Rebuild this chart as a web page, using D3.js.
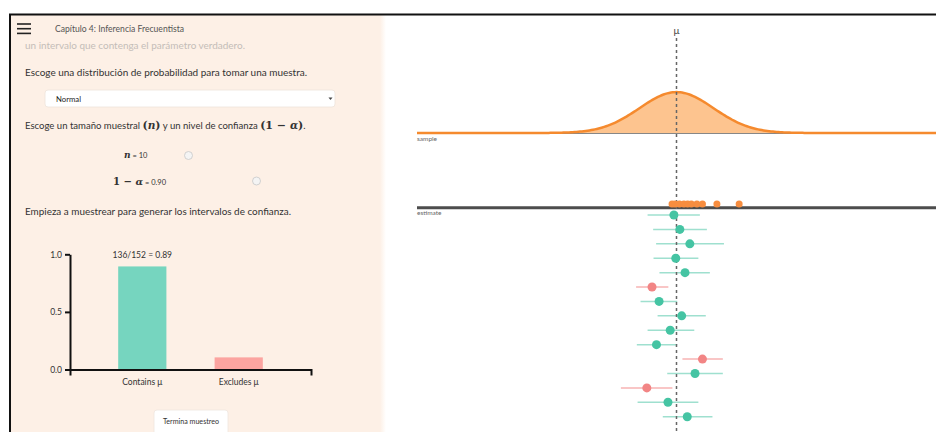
<!DOCTYPE html>
<html>
<head>
<meta charset="utf-8">
<script src="https://cdn.jsdelivr.net/npm/d3@7"></script>
<style>
body { margin: 0; background: #fff; }
svg { display: block; }
text { font-family: Lato, "Open Sans", sans-serif; }
</style>
</head>
<body>
<script>
// bar chart data
var barCats = ["Contains μ", "Excludes μ"];
var barCounts = [136, 16];
var barTotal = 152;
var barTicks = [0, 0.5, 1.0];

// population
var mu = 0, sigma = 1;

// last sample (n = 10)
var sampleVals = [-0.12, -0.04, 0.08, 0.2, 0.3, 0.4, 0.55, 0.7, 1.09, 1.69];

// confidence intervals, top to bottom
var estimates = [-0.07, 0.09, 0.36, -0.02, 0.23, -0.66, -0.47, 0.14, -0.17, -0.54, 0.70, 0.50, -0.80, -0.23, 0.29];
var lowers    = [-0.78, -0.63, -0.55, -0.62, -0.46, -1.09, -0.97, -0.51, -0.78, -1.07, 0.16, -0.25, -1.50, -1.05, -0.37];
var uppers    = [0.63, 0.82, 1.28, 0.59, 0.90, -0.22, 0.02, 0.79, 0.48, 0.02, 1.25, 1.25, -0.11, 0.59, 0.97];

var W = 936, H = 432;
var svg = d3.select("body").append("svg").attr("width", W).attr("height", H);

// scale font size so the text takes the given width
function fit(sel, w) {
  var cur = sel.node().getComputedTextLength();
  var fs = parseFloat(sel.attr("font-size"));
  sel.attr("font-size", fs * w / cur);
  return sel;
}
// keep the font size, squeeze to width
function squeeze(sel, w) {
  return sel.attr("textLength", w).attr("lengthAdjust", "spacingAndGlyphs");
}

// ---------- left panel ----------
svg.append("rect").attr("x", 10).attr("y", 14).attr("width", 373).attr("height", H - 14).attr("fill", "#fdf0e6");
var grad = svg.append("defs").append("linearGradient").attr("id", "edge");
grad.append("stop").attr("offset", "0%").attr("stop-color", "#fdf0e6");
grad.append("stop").attr("offset", "100%").attr("stop-color", "#fff");
svg.append("rect").attr("x", 380).attr("y", 14).attr("width", 6).attr("height", H - 14).attr("fill", "url(#edge)");

// frame
svg.append("line").attr("x1", 9).attr("x2", W).attr("y1", 14.5).attr("y2", 14.5).attr("stroke", "#111").attr("stroke-width", 2);
svg.append("line").attr("x1", 10).attr("x2", 10).attr("y1", 14).attr("y2", H).attr("stroke", "#111").attr("stroke-width", 2);

// menu icon
[24, 28.7, 33.4].forEach(function(y) {
  svg.append("line").attr("x1", 17).attr("x2", 31).attr("y1", y).attr("y2", y).attr("stroke", "#222").attr("stroke-width", 1.6);
});

squeeze(svg.append("text").attr("x", 55).attr("y", 32).attr("font-size", 9).attr("fill", "#555")
  .text("Capítulo 4: Inferencia Frecuentista"), 129);
squeeze(svg.append("text").attr("x", 25).attr("y", 49).attr("font-size", 10.3).attr("fill", "#c4bdb8")
  .text("un intervalo que contenga el parámetro verdadero."), 220);
squeeze(svg.append("text").attr("x", 25).attr("y", 76).attr("font-size", 10.3).attr("fill", "#333")
  .text("Escoge una distribución de probabilidad para tomar una muestra."), 282);

// select box
svg.append("rect").attr("x", 45).attr("y", 90).attr("width", 290).attr("height", 17).attr("rx", 3)
  .attr("fill", "#fff").attr("stroke", "#eee3da").attr("stroke-width", 0.8);
fit(svg.append("text").attr("x", 56).attr("y", 101.5).attr("font-size", 8).attr("fill", "#222").text("Normal"), 25);
svg.append("path").attr("d", "M328.5,97.5 L332.5,97.5 L330.5,100 Z").attr("fill", "#444");

var t2 = svg.append("text").attr("x", 25).attr("y", 129).attr("font-size", 10).attr("fill", "#333");
t2.append("tspan").text("Escoge un tamaño muestral ");
t2.append("tspan").attr("font-family", "DejaVu Serif").attr("font-weight", "bold").style("font-size", "1.15em").text("(");
t2.append("tspan").attr("font-family", "DejaVu Serif").attr("font-weight", "bold").attr("font-style", "italic").style("font-size", "1.1em").text("n");
t2.append("tspan").attr("font-family", "DejaVu Serif").attr("font-weight", "bold").style("font-size", "1.15em").text(")");
t2.append("tspan").text(" y un nivel de confianza ");
t2.append("tspan").attr("font-family", "DejaVu Serif").attr("font-weight", "bold").style("font-size", "1.15em").text("(1 − ");
t2.append("tspan").attr("font-family", "DejaVu Serif").attr("font-weight", "bold").attr("font-style", "italic").style("font-size", "1.1em").text("α");
t2.append("tspan").attr("font-family", "DejaVu Serif").attr("font-weight", "bold").style("font-size", "1.15em").text(")");
t2.append("tspan").text(".");
fit(t2, 281);

var tn = svg.append("text").attr("x", 124).attr("y", 158).attr("font-size", 7.5).attr("fill", "#333");
tn.append("tspan").attr("font-family", "DejaVu Serif").attr("font-weight", "bold").attr("font-style", "italic").style("font-size", "1.2em").text("n");
tn.append("tspan").text(" = 10");
svg.append("circle").attr("cx", 188.5).attr("cy", 155.5).attr("r", 4).attr("fill", "#f4f4f4").attr("stroke", "#c8c8c8").attr("stroke-width", 0.8);

var ta = svg.append("text").attr("x", 113).attr("y", 185).attr("font-size", 7.5).attr("fill", "#333");
ta.append("tspan").attr("font-family", "DejaVu Serif").attr("font-weight", "bold").style("font-size", "1.35em").text("1 − ");
ta.append("tspan").attr("font-family", "DejaVu Serif").attr("font-weight", "bold").attr("font-style", "italic").style("font-size", "1.3em").text("α");
ta.append("tspan").text(" = 0.90");
svg.append("circle").attr("cx", 256.5).attr("cy", 181).attr("r", 4).attr("fill", "#f4f4f4").attr("stroke", "#c8c8c8").attr("stroke-width", 0.8);

squeeze(svg.append("text").attr("x", 25).attr("y", 215).attr("font-size", 10.3).attr("fill", "#333")
  .text("Empieza a muestrear para generar los intervalos de confianza."), 266);

// bar chart
var barVals = barCounts.map(function(c) { return c / barTotal; });
var bx = d3.scaleBand().domain(barCats).range([70, 311]).padding(0.5);
var by = d3.scaleLinear().domain([0, 1]).range([369.5, 254.3]);

var bars = svg.append("g");
bars.selectAll("rect").data(barCats).enter().append("rect")
  .attr("x", function(d) { return bx(d); })
  .attr("width", bx.bandwidth())
  .attr("y", function(d, i) { return by(barVals[i]); })
  .attr("height", function(d, i) { return by(0) - by(barVals[i]); })
  .attr("fill", function(d, i) { return i === 0 ? "#76d5bf" : "#fca4a0"; });

var gy = svg.append("g").attr("transform", "translate(70,0)")
  .call(d3.axisLeft(by).tickValues(barTicks).tickFormat(d3.format(".1f")).tickSize(5).tickSizeOuter(0));
var gx = svg.append("g").attr("transform", "translate(0,369.5)")
  .call(d3.axisBottom(bx).tickSizeInner(0).tickSizeOuter(6).tickPadding(9));
[gy, gx].forEach(function(g) {
  g.selectAll("path, line").attr("stroke", "#111").attr("stroke-width", 2);
  g.selectAll("text").attr("font-family", "Lato, sans-serif").attr("font-size", 8.5).attr("fill", "#333");
});

svg.append("text").attr("x", bx(barCats[0]) + bx.bandwidth() / 2).attr("y", 258.3)
  .attr("text-anchor", "middle").attr("font-size", 8.5).attr("fill", "#333")
  .text(barCounts[0] + "/" + barTotal + " = " + d3.format(".2f")(barVals[0]));

// button
svg.append("rect").attr("x", 154).attr("y", 410).attr("width", 74).attr("height", 26).attr("rx", 3)
  .attr("fill", "#fff").attr("stroke", "#efe6de").attr("stroke-width", 0.8);
fit(svg.append("text").attr("x", 191).attr("y", 423.5).attr("text-anchor", "middle").attr("font-size", 7).attr("fill", "#333")
  .text("Termina muestreo"), 56);

// ---------- right panel ----------
var x = d3.scaleLinear().domain([-7, 7]).range([417, 936]);
var yd = d3.scaleLinear().domain([0, 0.4]).range([133, 92]);
var ry = d3.scaleLinear().domain([0, estimates.length - 1]).range([215, 416.7]);

// normal density of the population
var grid = d3.range(-7, 7.001, 0.05);
var pdf = function(v) { return Math.exp(-0.5 * Math.pow((v - mu) / sigma, 2)) / (sigma * Math.sqrt(2 * Math.PI)); };

svg.append("line").attr("x1", 417).attr("x2", W).attr("y1", 133).attr("y2", 133).attr("stroke", "#111").attr("stroke-width", 1);
svg.append("path").datum(grid)
  .attr("d", d3.area().x(function(d) { return x(d); }).y0(yd(0)).y1(function(d) { return yd(pdf(d)); }))
  .attr("fill", "#fdc48f");
svg.append("path").datum(grid)
  .attr("d", d3.line().x(function(d) { return x(d); }).y(function(d) { return yd(pdf(d)); }))
  .attr("fill", "none").attr("stroke", "#f58a2e").attr("stroke-width", 2.5);
svg.append("text").attr("x", 417).attr("y", 141).attr("font-size", 6.5).attr("fill", "#666").text("sample");

// estimate axis
svg.append("line").attr("x1", 417).attr("x2", W).attr("y1", 207.7).attr("y2", 207.7).attr("stroke", "#4d4d4d").attr("stroke-width", 3);
svg.append("text").attr("x", 417).attr("y", 214.5).attr("font-size", 6.5).attr("fill", "#666").text("estimate");

// interval lines
function hits(i) { return lowers[i] <= mu && uppers[i] >= mu; }
svg.append("g").selectAll("line").data(estimates).enter().append("line")
  .attr("x1", function(d, i) { return x(lowers[i]); })
  .attr("x2", function(d, i) { return x(uppers[i]); })
  .attr("y1", function(d, i) { return ry(i); })
  .attr("y2", function(d, i) { return ry(i); })
  .attr("stroke", function(d, i) { return hits(i) ? "#9fe0cf" : "#f7b3b3"; })
  .attr("stroke-width", 1.5);

// mu line
svg.append("line").attr("x1", x(mu)).attr("x2", x(mu)).attr("y1", 38).attr("y2", H)
  .attr("stroke", "#666").attr("stroke-width", 1.5).attr("stroke-dasharray", "3,3");
svg.append("text").attr("x", x(mu)).attr("y", 34).attr("text-anchor", "middle").attr("font-size", 10).attr("fill", "#444").text("μ");

// sample points
svg.append("g").selectAll("circle").data(sampleVals).enter().append("circle")
  .attr("cx", function(d) { return x(d); })
  .attr("cy", 204)
  .attr("r", 3.5)
  .attr("fill", "#f78d3f");

// estimates
svg.append("g").selectAll("circle").data(estimates).enter().append("circle")
  .attr("cx", function(d) { return x(d); })
  .attr("cy", function(d, i) { return ry(i); })
  .attr("r", 4.5)
  .attr("fill", function(d, i) { return hits(i) ? "#45c4a3" : "#f28585"; });
</script>
</body>
</html>
